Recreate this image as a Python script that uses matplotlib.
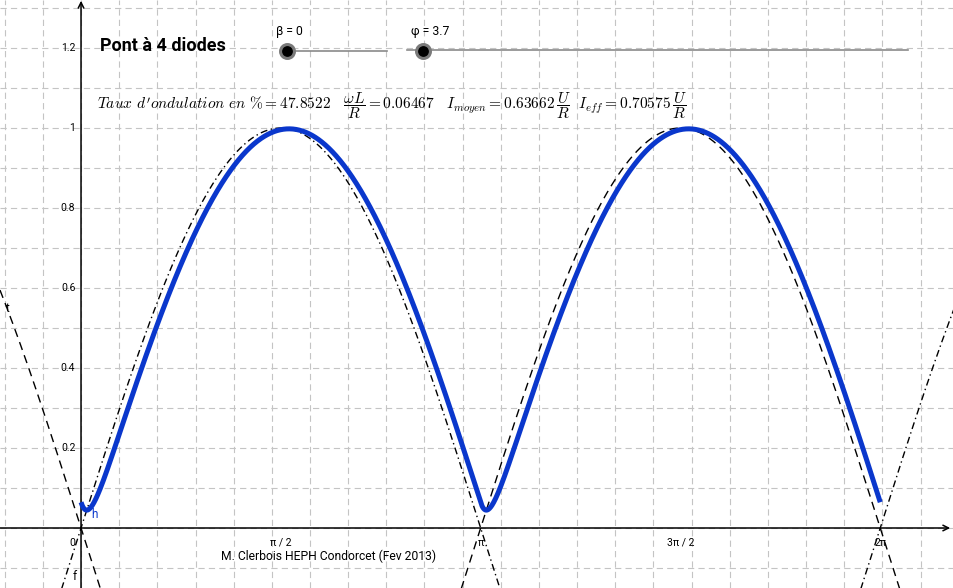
import numpy as np
import matplotlib
matplotlib.use("Agg")
import matplotlib.pyplot as plt

plt.rcParams['lines.scale_dashes'] = False
plt.rcParams['mathtext.fontset'] = 'cm'

# valeurs
wL_R = 0.06467              # omega L / R
taux = 47.8522
i_moyen = 0.63662
i_eff = 0.70575
beta = 0
phi_slider = 3.7

x_ticks = [0, np.pi / 2, np.pi, 3 * np.pi / 2, 2 * np.pi]
x_ticklabels = ["0", "π / 2", "π", "3π / 2", "2π"]
y_ticks = [0.2, 0.4, 0.6, 0.8, 1.0, 1.2]
y_ticklabels = ["0.2", "0.4", "0.6", "0.8", "1", "1.2"]

xmin, xmax = -0.637, 6.863
ymin, ymax = -0.15, 1.32

W, H = 954, 588


def P(px, py):
    # pixel -> axes fraction
    return px / W, 1 - py / H


fig = plt.figure(figsize=(W / 100, H / 100), dpi=100)
ax = fig.add_axes([0, 0, 1, 1])
ax.set_xlim(xmin, xmax)
ax.set_ylim(ymin, ymax)
ax.axis('off')

# grille
for gx in np.arange(-0.6, xmax, 0.3):
    ax.axvline(gx, color='#c4c4c4', lw=0.8, dashes=(4.5, 3), zorder=0)
for gy in np.arange(-0.1, ymax, 0.1):
    ax.axhline(gy, color='#c4c4c4', lw=0.8, dashes=(4.5, 3), zorder=0)

# axes avec fleches
ax.annotate('', xy=(xmax - 0.03, 0), xytext=(xmin, 0),
            arrowprops=dict(arrowstyle='->', lw=1.1, color='black', shrinkA=0, shrinkB=0), zorder=2)
ax.annotate('', xy=(0, ymax - 0.002), xytext=(0, ymin),
            arrowprops=dict(arrowstyle='->', lw=1.1, color='black', shrinkA=0, shrinkB=0), zorder=2)

for t, lab in zip(y_ticks, y_ticklabels):
    ax.text(-0.045, t, lab, ha='right', va='center', fontsize=7.5, family='Roboto')
for t, lab in zip(x_ticks, x_ticklabels):
    dx = -0.065 if t == 0 else 0.0
    ax.text(t + dx, -0.025, lab, ha='center', va='top', fontsize=7.5, family='Roboto')

# courbes f (sin) et t (-sin)
x = np.linspace(xmin, xmax, 2000)
ax.plot(x, np.sin(x), color='black', lw=1.0, dashes=(5, 2.5, 1, 2.5), zorder=3)
ax.plot(x, -np.sin(x), color='black', lw=1.0, dashes=(6, 4), zorder=3)

# courant h (pont RL)
phi = np.arctan(wL_R)
K = 2 * np.sin(phi) / (1 - np.exp(-np.pi / wL_R))
xh = np.linspace(0, 2 * np.pi, 2000)
xr = np.mod(xh, np.pi)
xr[-1] = np.pi
h = (np.sin(xr - phi) + K * np.exp(-xr / wL_R)) / np.sqrt(1 + wL_R ** 2)
ax.plot(xh, h, color='#0a37cc', lw=3.6, solid_capstyle='butt', zorder=4)

ax.text(*P(91, 514), "h", transform=ax.transAxes, color='#0a37cc', fontsize=8.5,
        family='Roboto', ha='left', va='center')
ax.text(*P(75, 577), "f", transform=ax.transAxes, fontsize=8.5, family='Roboto',
        ha='center', va='center')
ax.text(*P(7, 308), "t", transform=ax.transAxes, fontsize=8.5, family='Roboto',
        ha='center', va='center')

# titre
ax.text(*P(100, 46), "Pont à 4 diodes", transform=ax.transAxes, fontsize=13,
        fontweight='bold', family='Roboto', ha='left', va='center')

# curseurs
ax.plot([P(287, 51)[0], P(387, 51)[0]], [P(287, 51)[1]] * 2, transform=ax.transAxes,
        color='#8a8a8a', lw=1.2, zorder=5)
ax.plot([P(407, 50)[0], P(908, 50)[0]], [P(407, 50)[1]] * 2, transform=ax.transAxes,
        color='#8a8a8a', lw=1.2, zorder=5)
for px in (287, 423):
    ax.plot(*P(px, 51), 'o', transform=ax.transAxes, ms=10, color='black',
            mec='#7a7a7a', mew=2.2, zorder=6)
ax.text(*P(289, 31), "β = %d" % beta, transform=ax.transAxes, fontsize=8.8,
        family='Roboto', ha='center', va='center')
ax.text(*P(430, 31), "φ = %.1f" % phi_slider, transform=ax.transAxes, fontsize=8.8,
        family='Roboto', ha='center', va='center')

# formules
formule = (r"$Taux\ d'ondulation\ en\ \% = " + str(taux)
           + r"\quad \dfrac{\omega L}{R} = " + "%.5f" % wL_R
           + r"\quad I_{moyen} = " + "%.5f" % i_moyen
           + r"\,\dfrac{U}{R}\ \ I_{eff} = " + "%.5f" % i_eff
           + r"\,\dfrac{U}{R}$")
ax.text(*P(97, 109), formule, transform=ax.transAxes, fontsize=11.1, ha='left',
        va='baseline')

ax.text(*P(329, 556), "M. Clerbois HEPH Condorcet (Fev 2013)", transform=ax.transAxes,
        fontsize=8.7, family='Roboto', ha='center', va='center')

fig.savefig("out.png", dpi=100)
